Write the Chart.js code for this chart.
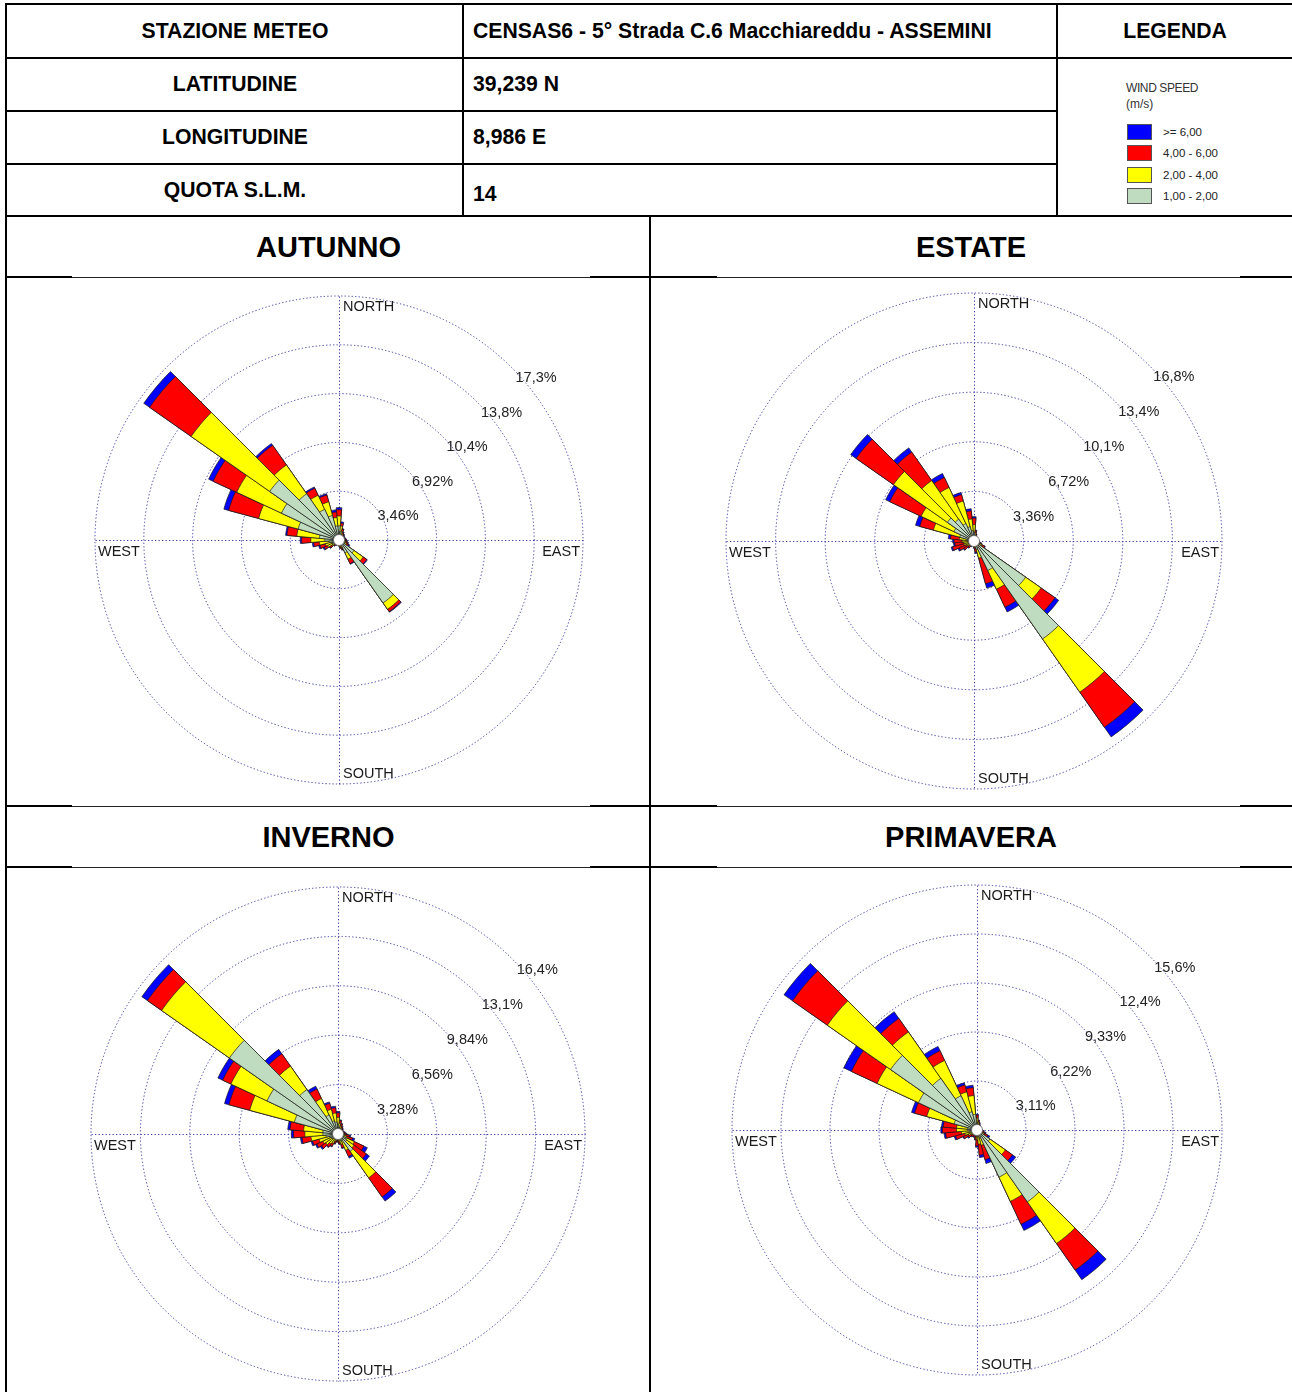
<!DOCTYPE html>
<html>
<head>
<meta charset="utf-8">
<script src="https://cdn.jsdelivr.net/npm/chart.js@4.4.1/dist/chart.umd.min.js"></script>
<style>
  body { margin:0; width:1292px; height:1392px; background:#fff; position:relative; overflow:hidden;
         font-family:"Liberation Sans", Arial, sans-serif; color:#000; }
  .ln { position:absolute; background:#000; }
  .thin { background:#222; }
  .hd { position:absolute; font-weight:bold; font-size:21.2px; height:28px; line-height:28px; white-space:nowrap; }
  .ttl { position:absolute; font-weight:bold; font-size:29px; height:34px; line-height:34px; text-align:center; }
  .lg { position:absolute; font-size:12px; color:#333; white-space:nowrap; line-height:14px; }
  .sw { position:absolute; width:23px; height:14px; border:1px solid #555; }
  canvas { position:absolute; }
</style>
</head>
<body>
<!-- station table -->
<div class="ln" style="left:5px;top:3px;width:1287px;height:2px"></div>
<div class="ln" style="left:5px;top:57px;width:1287px;height:2px"></div>
<div class="ln" style="left:5px;top:110px;width:1052px;height:2px"></div>
<div class="ln" style="left:5px;top:163px;width:1052px;height:2px"></div>
<div class="ln" style="left:5px;top:215px;width:1287px;height:2px"></div>
<div class="ln" style="left:5px;top:3px;width:2px;height:1389px"></div>
<div class="ln" style="left:462px;top:3px;width:2px;height:213px"></div>
<div class="ln" style="left:1056px;top:3px;width:2px;height:213px"></div>
<div class="ln" style="left:649px;top:215px;width:2px;height:1177px"></div>

<div class="hd" style="left:7px;width:456px;top:17px;text-align:center">STAZIONE METEO</div>
<div class="hd" style="left:473px;top:17px">CENSAS6 - 5° Strada C.6 Macchiareddu - ASSEMINI</div>
<div class="hd" style="left:1058px;width:234px;top:17px;text-align:center">LEGENDA</div>
<div class="hd" style="left:7px;width:456px;top:70px;text-align:center">LATITUDINE</div>
<div class="hd" style="left:473px;top:70px">39,239 N</div>
<div class="hd" style="left:7px;width:456px;top:123px;text-align:center">LONGITUDINE</div>
<div class="hd" style="left:473px;top:123px">8,986 E</div>
<div class="hd" style="left:7px;width:456px;top:176px;text-align:center">QUOTA S.L.M.</div>
<div class="hd" style="left:473px;top:180px">14</div>

<div id="legend"></div>

<!-- season panels -->
<div id="frames"></div>
<div class="ttl" style="left:7px;width:643px;top:230px">AUTUNNO</div>
<div class="ttl" style="left:650px;width:642px;top:230px">ESTATE</div>
<div class="ttl" style="left:7px;width:643px;top:820px">INVERNO</div>
<div class="ttl" style="left:650px;width:642px;top:820px">PRIMAVERA</div>

<canvas id="autunno" width="500" height="500" style="left:89px;top:290px"></canvas>
<canvas id="estate" width="500" height="500" style="left:724px;top:291px"></canvas>
<canvas id="inverno" width="500" height="500" style="left:88px;top:884px"></canvas>
<canvas id="primavera" width="500" height="500" style="left:727px;top:880px"></canvas>

<script>
// Wind directions (degrees from north, clockwise), one sector every 10°
const directions = [0,10,20,30,40,50,60,70,80,90,100,110,120,130,140,150,160,170,
                    180,190,200,210,220,230,240,250,260,270,280,290,300,310,320,330,340,350];
const speedClasses = ['1,00 - 2,00', '2,00 - 4,00', '4,00 - 6,00', '>= 6,00'];
const classColors  = ['#c0dcc0', '#ffff00', '#ff0000', '#0000ff'];
const compassLabels = ['NORTH', 'EAST', 'SOUTH', 'WEST'];
const ringSteps = [3.46, 3.36, 3.28, 3.111];   // autunno, estate, inverno, primavera

// Frequencies (%) per direction and speed class — AUTUNNO
const autunno1to2 = [1.0,0.6,0.4,0.3,0.25,0.25,0.2,0.2,0.2,0.25,0.25,0.3,0.35,1.3,5.45,1.0,0.35,0.3,
                     0.2,0.15,0.15,0.2,0.25,0.35,0.5,0.5,0.7,1.0,1.4,3.0,4.5,6.0,4.0,2.4,1.8,1.0];
const autunno2to4 = [0.7,0.4,0.25,0.2,0.15,0.1,0.1,0.1,0.15,0.15,0.15,0.2,0.25,0.8,0.55,0.5,0.2,0.15,
                     0.1,0.1,0.1,0.1,0.15,0.25,0.4,0.5,0.7,1.0,1.6,2.9,3.5,6.8,2.5,1.1,1.0,0.6];
const autunno4to6 = [0.45,0.2,0.15,0.1,0.1,0.1,0.1,0.1,0.1,0.1,0.15,0.15,0.15,0.3,0.2,0.35,0.15,0.1,
                     0.1,0.05,0.05,0.1,0.1,0.2,0.25,0.4,0.4,0.65,0.7,2.2,1.85,3.6,1.7,0.55,0.5,0.4];
const autunnoOver6 = [0.15,0.1,0.05,0.05,0.05,0.05,0.05,0.05,0.05,0.05,0.05,0.05,0.1,0.05,0.05,0.05,0.05,0.05,
                      0.05,0.05,0.05,0.05,0.05,0.05,0.1,0.1,0.1,0.1,0.1,0.35,0.35,0.5,0.15,0.1,0.1,0.15];

// ESTATE
const estate1to2 = [0.6,0.3,0.2,0.15,0.15,0.1,0.1,0.1,0.1,0.15,0.15,0.2,0.35,4.27,8.1,2.2,0.6,0.25,
                    0.15,0.1,0.1,0.15,0.2,0.25,0.3,0.35,0.35,0.4,0.45,1.0,1.5,2.2,1.8,1.3,1.0,0.7];
const estate2to4 = [0.5,0.25,0.15,0.1,0.05,0.1,0.1,0.1,0.1,0.1,0.15,0.2,0.25,1.28,4.4,1.4,0.6,0.2,
                    0.15,0.1,0.1,0.1,0.15,0.25,0.3,0.35,0.35,0.4,0.55,1.85,2.45,4.46,3.2,2.7,1.8,0.8];
const estate4to6 = [0.45,0.15,0.1,0.05,0.05,0.05,0.05,0.05,0.05,0.05,0.05,0.1,0.2,1.15,2.9,1.35,1.8,0.3,
                    0.15,0.1,0.1,0.15,0.2,0.35,0.5,0.8,0.6,0.55,0.6,0.95,2.35,3.09,2.35,0.75,0.45,0.55];
const estateOver6 = [0.1,0.05,0.05,0.05,0.05,0.05,0.05,0.05,0.05,0.05,0.05,0.05,0.05,0.3,0.8,0.35,0.3,0.1,
                     0.05,0.05,0.05,0.05,0.05,0.05,0.1,0.1,0.1,0.1,0.15,0.3,0.3,0.45,0.35,0.3,0.15,0.15];

// INVERNO
const inverno1to2 = [0.6,0.4,0.3,0.25,0.2,0.2,0.15,0.15,0.2,0.2,0.25,0.3,0.6,0.7,1.4,0.5,0.3,0.25,
                     0.2,0.2,0.25,0.3,0.35,0.45,0.5,0.6,0.8,1.0,1.0,3.0,5.2,8.8,3.6,1.4,0.9,0.8];
const inverno2to4 = [0.5,0.3,0.25,0.2,0.15,0.1,0.15,0.15,0.15,0.2,0.25,0.3,0.6,0.6,2.15,0.7,0.4,0.25,
                     0.2,0.2,0.25,0.4,0.45,0.55,0.6,0.7,1.0,1.2,1.3,3.07,2.65,5.5,1.9,1.2,0.8,0.6];
const inverno4to6 = [0.3,0.2,0.15,0.1,0.1,0.1,0.05,0.1,0.1,0.15,0.25,0.4,0.7,1.0,1.55,0.45,0.25,0.15,
                     0.1,0.1,0.15,0.2,0.25,0.35,0.45,0.45,0.6,0.75,0.9,1.43,0.6,1.15,1.0,0.7,0.4,0.35];
const invernoOver6 = [0.1,0.05,0.05,0.05,0.05,0.05,0.05,0.05,0.05,0.05,0.1,0.15,0.25,0.25,0.34,0.12,0.05,0.05,
                      0.05,0.05,0.05,0.05,0.05,0.1,0.1,0.1,0.1,0.15,0.15,0.3,0.35,0.45,0.36,0.2,0.1,0.1];

// PRIMAVERA
const primavera1to2 = [0.4,0.3,0.2,0.15,0.15,0.1,0.1,0.1,0.1,0.15,0.15,0.2,0.3,1.0,5.57,3.3,0.5,0.4,
                       0.3,0.2,0.15,0.15,0.2,0.25,0.3,0.4,0.5,0.6,0.6,1.5,4.1,6.7,4.0,2.4,1.2,1.0];
const primavera2to4 = [0.35,0.2,0.15,0.15,0.1,0.1,0.1,0.1,0.1,0.1,0.15,0.15,0.2,1.2,3.23,1.7,0.5,0.5,
                       0.3,0.2,0.15,0.15,0.15,0.2,0.3,0.4,0.5,0.7,0.7,1.8,2.9,4.9,3.6,2.47,1.3,1.2];
const primavera4to6 = [0.2,0.1,0.1,0.05,0.05,0.05,0.05,0.05,0.05,0.05,0.1,0.15,0.25,0.55,2.06,1.6,0.95,0.7,
                       0.4,0.2,0.15,0.15,0.15,0.25,0.35,0.6,1.0,0.9,0.85,0.8,1.8,2.7,1.05,0.68,0.45,0.5];
const primaveraOver6 = [0.05,0.05,0.05,0.05,0.05,0.05,0.05,0.05,0.05,0.05,0.05,0.1,0.15,0.25,0.74,0.44,0.25,0.15,
                        0.1,0.05,0.05,0.05,0.05,0.05,0.05,0.1,0.1,0.1,0.11,0.2,0.53,0.66,0.52,0.3,0.15,0.15];

const GRID_COLOR = 'rgba(56,56,160,0.95)';
const GRID_DASH = [1.3, 2.2];
const FONT = '"Liberation Sans", Arial, sans-serif';

// Title rows: thick table borders at the ends, thin frame line in the middle
(function drawFrames() {
  const host = document.getElementById('frames');
  const rows = [276, 805, 866];
  const segs = [[5, 67, 2], [72, 518, 1], [590, 60, 2], [650, 67, 2], [717, 523, 1], [1240, 52, 2]];
  rows.forEach(y => segs.forEach(([x, w, h]) => {
    const d = document.createElement('div');
    d.className = 'ln' + (h < 2 ? ' thin' : '');
    d.style.cssText = `left:${x}px;top:${y + (h < 2 ? 0.5 : 0)}px;width:${w}px;height:${h}px`;
    host.appendChild(d);
  }));
})();

// Shared legend (fastest class on top)
(function drawLegend() {
  const host = document.getElementById('legend');
  const add = (html, css, cls) => {
    const d = document.createElement('div');
    d.className = cls; d.style.cssText = css; d.innerHTML = html; host.appendChild(d);
  };
  add('WIND SPEED', 'left:1126px;top:81px;letter-spacing:-0.4px', 'lg');
  add('(m/s)', 'left:1126px;top:97px', 'lg');
  const tops = [124, 145, 167, 188];
  for (let k = 0; k < 4; k++) {
    const c = 3 - k;
    add('', `left:1127px;top:${tops[k]}px;background:${classColors[c]}`, 'sw');
    add(speedClasses[c].replace('>=', '&gt;='), `left:1163px;top:${tops[k] + 1}px;font-size:11.5px;color:#222`, 'lg');
  }
})();

function fmtPct(v) {
  return v.toPrecision(3).replace('.', ',') + '%';
}

// Rings, cross, hub and labels of a wind rose
const roseDecor = {
  id: 'roseDecor',
  beforeDatasetsDraw(chart) {
    const s = chart.scales.r, ctx = chart.ctx;
    const R = s.drawingArea, cx = s.xCenter + 0.5, cy = s.yCenter + 0.5;
    ctx.save();
    ctx.strokeStyle = GRID_COLOR;
    ctx.lineWidth = 1;
    ctx.setLineDash(GRID_DASH);
    ctx.beginPath();
    ctx.moveTo(cx, cy - R); ctx.lineTo(cx, cy + R);
    ctx.moveTo(cx - R, cy); ctx.lineTo(cx + R, cy);
    ctx.stroke();
    ctx.restore();
  },
  afterDatasetsDraw(chart) {
    const s = chart.scales.r, ctx = chart.ctx;
    const R = s.drawingArea, cx = s.xCenter, cy = s.yCenter;
    ctx.save();
    // hub
    ctx.beginPath();
    ctx.arc(cx, cy, 5.5, 0, Math.PI * 2);
    ctx.fillStyle = '#fff'; ctx.fill();
    ctx.lineWidth = 0.8; ctx.strokeStyle = '#666'; ctx.stroke();
    // compass words
    ctx.fillStyle = '#1a1a1a';
    ctx.font = '14.5px ' + FONT;
    ctx.textBaseline = 'middle';
    ctx.textAlign = 'left';
    ctx.fillText(compassLabels[0], cx + 4, cy - R + 11);
    ctx.fillText(compassLabels[2], cx + 4, cy + R - 10);
    ctx.fillText(compassLabels[3], cx - R + 3, cy + 12);
    ctx.textAlign = 'right';
    ctx.fillText(compassLabels[1], cx + R - 3, cy + 12);
    // ring values along the north-east diagonal
    ctx.textAlign = 'left';
    ctx.fillStyle = '#222';
    s.ticks.forEach((t, i) => {
      if (i === 0) return;
      const d = s.getDistanceFromCenterForValue(t.value) * Math.SQRT1_2;
      ctx.fillText(fmtPct(t.value), cx + d + 4, cy - d + 11);
    });
    ctx.restore();
  }
};

function cumulative(classes) {
  const out = [];
  let run = directions.map(() => 0);
  classes.forEach(arr => {
    run = run.map((v, i) => +(v + arr[i]).toFixed(3));
    out.push(run);
  });
  return out;
}

function makeRose(id, classes, step, radius) {
  const stacks = cumulative(classes);
  new Chart(document.getElementById(id), {
    type: 'polarArea',
    data: {
      labels: directions,
      // smallest cumulative ring first so it is painted on top
      datasets: stacks.map((data, k) => ({
        label: speedClasses[k],
        data,
        backgroundColor: classColors[k],
        borderColor: '#1a1a1a',
        borderWidth: 0.7
      }))
    },
    options: {
      responsive: false,
      devicePixelRatio: 1,
      animation: false,
      events: [],
      layout: { padding: 250 - radius },
      plugins: { legend: { display: false }, tooltip: { enabled: false } },
      scales: {
        r: {
          min: 0,
          max: step * 5,
          startAngle: -5,
          ticks: { display: false, count: 6 },
          grid: { circular: true, color: GRID_COLOR, lineWidth: 1 },
          border: { dash: GRID_DASH },
          angleLines: { display: false },
          pointLabels: { display: false }
        }
      }
    },
    plugins: [roseDecor]
  });
}

makeRose('autunno',   [autunno1to2, autunno2to4, autunno4to6, autunnoOver6], ringSteps[0], 244);
makeRose('estate',    [estate1to2, estate2to4, estate4to6, estateOver6], ringSteps[1], 248);
makeRose('inverno',   [inverno1to2, inverno2to4, inverno4to6, invernoOver6], ringSteps[2], 247);
makeRose('primavera', [primavera1to2, primavera2to4, primavera4to6, primaveraOver6], ringSteps[3], 245);
</script>
</body>
</html>
